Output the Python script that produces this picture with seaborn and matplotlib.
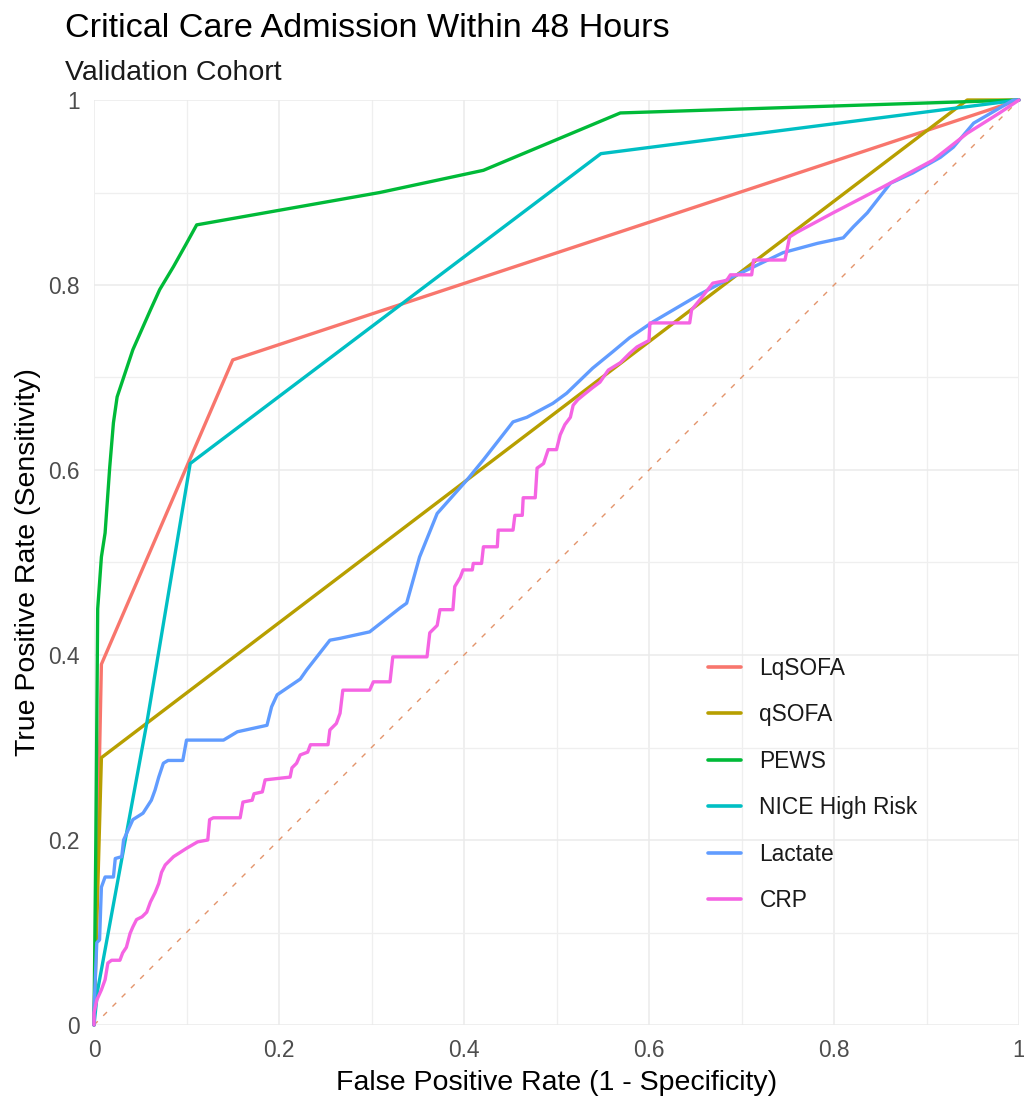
import numpy as np
import pandas as pd
import matplotlib
matplotlib.use("Agg")
import matplotlib.pyplot as plt
import seaborn as sns
from matplotlib.ticker import MultipleLocator, FuncFormatter

# ---- data ----
models = ["LqSOFA", "qSOFA", "PEWS", "NICE High Risk", "Lactate", "CRP"]
colors = ["#F8766D", "#B79F00", "#00BA38", "#00BFC4", "#619CFF", "#F564E3"]

lqsofa_fpr = [0.0, 0.008, 0.150, 1.0]
lqsofa_tpr = [0.0, 0.390, 0.719, 1.0]

qsofa_fpr = [0.0, 0.008, 0.944, 1.0]
qsofa_tpr = [0.0, 0.289, 1.000, 1.0]

pews_fpr = [0.0, 0.002, 0.004, 0.008, 0.012, 0.017, 0.021, 0.025, 0.032, 0.042,
            0.061, 0.071, 0.086, 0.100, 0.111, 0.309, 0.421, 0.569, 0.907, 1.0]
pews_tpr = [0.0, 0.200, 0.450, 0.506, 0.532, 0.603, 0.651, 0.679, 0.700, 0.730,
            0.773, 0.795, 0.820, 0.845, 0.865, 0.900, 0.924, 0.986, 0.997, 1.0]

nice_fpr = [0.0, 0.004, 0.057, 0.104, 0.548, 1.0]
nice_tpr = [0.0, 0.038, 0.326, 0.607, 0.942, 1.0]

lactate_fpr = [0.0, 0.0, 0.003, 0.006, 0.008, 0.012, 0.021, 0.023, 0.030, 0.032,
               0.037, 0.042, 0.053, 0.062, 0.066, 0.070, 0.075, 0.080, 0.096, 0.100,
               0.140, 0.155, 0.187, 0.192, 0.198, 0.223, 0.230, 0.255, 0.266, 0.298,
               0.331, 0.338, 0.352, 0.371, 0.403, 0.421, 0.453, 0.468, 0.496, 0.511,
               0.539, 0.561, 0.579, 0.604, 0.655, 0.691, 0.745, 0.782, 0.810, 0.821,
               0.836, 0.861, 0.885, 0.915, 0.929, 0.951, 0.994, 1.0]
lactate_tpr = [0.0, 0.016, 0.089, 0.092, 0.149, 0.160, 0.160, 0.180, 0.182, 0.200,
               0.211, 0.222, 0.229, 0.243, 0.254, 0.268, 0.283, 0.286, 0.286, 0.308,
               0.308, 0.317, 0.324, 0.344, 0.357, 0.374, 0.384, 0.416, 0.418, 0.425,
               0.451, 0.456, 0.506, 0.553, 0.589, 0.611, 0.652, 0.657, 0.672, 0.683,
               0.710, 0.728, 0.743, 0.760, 0.790, 0.809, 0.835, 0.845, 0.851, 0.863,
               0.878, 0.910, 0.921, 0.938, 0.949, 0.975, 1.000, 1.0]

crp_fpr = [0.0, 0.0, 0.003, 0.008, 0.012, 0.015, 0.019, 0.028, 0.031, 0.035,
           0.039, 0.042, 0.046, 0.052, 0.057, 0.061, 0.066, 0.070, 0.073, 0.077,
           0.086, 0.100, 0.112, 0.123, 0.125, 0.129, 0.158, 0.161, 0.171, 0.173,
           0.182, 0.185, 0.212, 0.214, 0.219, 0.223, 0.231, 0.234, 0.253, 0.255,
           0.262, 0.266, 0.269, 0.298, 0.302, 0.320, 0.323, 0.360, 0.363, 0.371,
           0.374, 0.388, 0.390, 0.396, 0.399, 0.409, 0.410, 0.419, 0.421, 0.436,
           0.437, 0.453, 0.455, 0.463, 0.464, 0.477, 0.479, 0.486, 0.491, 0.500,
           0.504, 0.509, 0.515, 0.518, 0.523, 0.529, 0.539, 0.547, 0.556, 0.569,
           0.579, 0.587, 0.600, 0.601, 0.644, 0.646, 0.655, 0.669, 0.684, 0.688,
           0.711, 0.713, 0.747, 0.752, 0.760, 0.799, 0.853, 0.907, 0.944, 0.979, 1.0]
crp_tpr = [0.0, 0.013, 0.027, 0.038, 0.049, 0.067, 0.070, 0.070, 0.078, 0.084,
           0.099, 0.106, 0.114, 0.117, 0.122, 0.133, 0.143, 0.153, 0.165, 0.173,
           0.182, 0.191, 0.198, 0.200, 0.222, 0.224, 0.224, 0.241, 0.243, 0.250,
           0.252, 0.265, 0.268, 0.278, 0.283, 0.292, 0.295, 0.303, 0.303, 0.319,
           0.326, 0.337, 0.362, 0.362, 0.371, 0.371, 0.398, 0.398, 0.424, 0.432,
           0.449, 0.449, 0.474, 0.484, 0.492, 0.492, 0.499, 0.499, 0.517, 0.517,
           0.535, 0.535, 0.551, 0.551, 0.570, 0.570, 0.602, 0.607, 0.622, 0.622,
           0.638, 0.649, 0.657, 0.670, 0.676, 0.681, 0.689, 0.695, 0.708, 0.716,
           0.726, 0.733, 0.740, 0.759, 0.759, 0.773, 0.784, 0.802, 0.805, 0.811,
           0.811, 0.827, 0.827, 0.852, 0.857, 0.878, 0.906, 0.935, 0.964, 0.986, 1.0]

curves = {
    "LqSOFA": (lqsofa_fpr, lqsofa_tpr),
    "qSOFA": (qsofa_fpr, qsofa_tpr),
    "PEWS": (pews_fpr, pews_tpr),
    "NICE High Risk": (nice_fpr, nice_tpr),
    "Lactate": (lactate_fpr, lactate_tpr),
    "CRP": (crp_fpr, crp_tpr),
}

rows = []
for m in models:
    fx, ty = curves[m]
    for i, (a, b) in enumerate(zip(fx, ty)):
        rows.append({"model": m, "fpr": a, "tpr": b, "order": i})
df = pd.DataFrame(rows)

# ---- figure ----
sns.set_theme(style="white")
plt.rcParams["font.family"] = ["Liberation Sans", "DejaVu Sans"]

W, H = 1024, 1104
fig = plt.figure(figsize=(W / 100, H / 100), dpi=100)
x0, x1, y0, y1 = 94, 1019, 1025, 100
ax = fig.add_axes([x0 / W, 1 - y0 / H, (x1 - x0) / W, (y0 - y1) / H])

# reference diagonal
ax.plot([0, 1], [0, 1], color="#E3946B", lw=1.0, dashes=(3.8, 5.6), zorder=1)

sns.lineplot(data=df, x="fpr", y="tpr", hue="model", hue_order=models,
             palette=dict(zip(models, colors)), sort=False, estimator=None,
             lw=2.4, ax=ax, legend=True, zorder=3)
for ln in ax.lines:
    ln.set_clip_on(False)
    ln.set_solid_joinstyle("round")

ax.set_xlim(0, 1)
ax.set_ylim(0, 1)
ax.set_xlabel("")
ax.set_ylabel("")

fmt = FuncFormatter(lambda v, p: ("%g" % round(v, 2)))
for axis in (ax.xaxis, ax.yaxis):
    axis.set_major_locator(MultipleLocator(0.2))
    axis.set_minor_locator(MultipleLocator(0.1))
    axis.set_major_formatter(fmt)

ax.grid(which="major", color="#EBEBEB", lw=1.1)
ax.grid(which="minor", color="#EFEFEF", lw=0.9)
ax.set_axisbelow(True)
for s in ax.spines.values():
    s.set_visible(False)

ax.tick_params(which="major", length=4, width=1.0, color="#C4C4C4",
               labelsize=16.4, labelcolor="#4D4D4D", pad=6)
ax.tick_params(which="minor", length=0)

# legend
leg = ax.get_legend()
handles = leg.legend_handles
labels = [t.get_text() for t in leg.texts]
leg.remove()
new_leg = ax.legend(handles, labels, loc="upper left",
                    bbox_to_anchor=(0.664, 0.398), frameon=False,
                    fontsize=16.4, handlelength=1.45, handletextpad=0.8,
                    labelspacing=1.03, borderpad=0, borderaxespad=0)
for h in new_leg.legend_handles:
    h.set_linewidth(2.6)
for t in new_leg.texts:
    t.set_color("#1A1A1A")

# titles
fig.text(65 / W, 1 - 37 / H, "Critical Care Admission Within 48 Hours",
         fontsize=24.6, color="#000000", ha="left", va="baseline")
fig.text(65 / W, 1 - 80 / H, "Validation Cohort",
         fontsize=20.5, color="#1A1A1A", ha="left", va="baseline")
fig.text((x0 + x1) / 2 / W, 1 - 1083 / H, "False Positive Rate (1 - Specificity)",
         fontsize=20.5, color="#000000", ha="center", va="center")
fig.text(28 / W, 1 - 562 / H, "True Positive Rate (Sensitivity)",
         fontsize=20.5, color="#000000", ha="center", va="center", rotation=90)

fig.savefig("out.png", dpi=100, facecolor="white")
